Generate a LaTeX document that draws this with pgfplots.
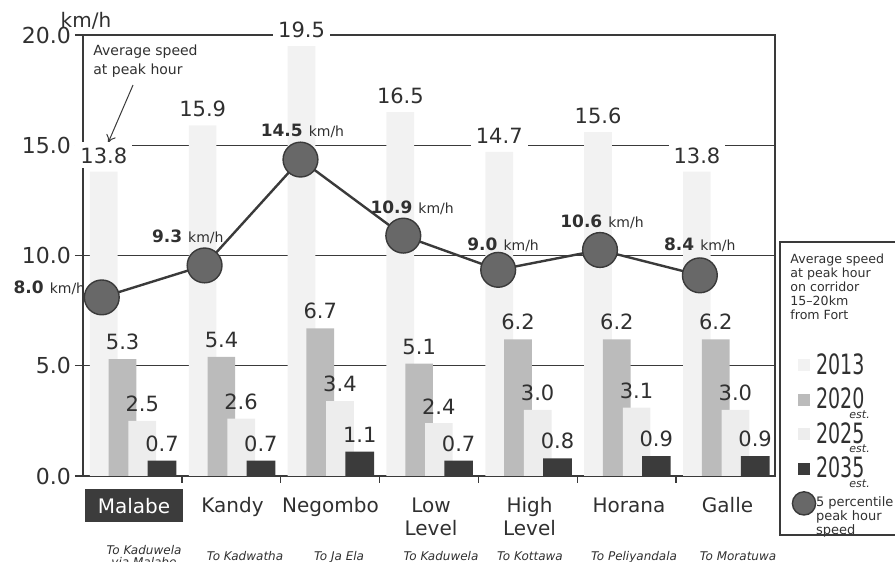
\documentclass[border=0pt]{standalone}
\usepackage{graphicx}
\usepackage{pgfplots}
\pgfplotsset{compat=1.18}
\usepackage{fontspec}
\setmainfont{DejaVu Sans}
\usetikzlibrary{arrows.meta}
\definecolor{axc}{HTML}{3A3A3A}
\definecolor{txt}{HTML}{303030}
\definecolor{cA}{HTML}{F2F2F2}
\definecolor{cB}{HTML}{BBBBBB}
\definecolor{cC}{HTML}{EDEDED}
\definecolor{cD}{HTML}{3B3B3B}
\definecolor{mk}{HTML}{686868}
\definecolor{boxc}{HTML}{3C3C3C}
\newcommand{\myfs}[1]{\fontsize{#1}{#1}\selectfont}
\newcommand{\myfsb}[2]{\fontsize{#1}{#2}\selectfont}
\newcommand{\legyr}[2]{\raisebox{0pt}[10.5pt][6.5pt]{\scalebox{0.68}[1]{\myfs{14}#1}\rlap{\hspace{-7.5pt}\raisebox{-4.8pt}{\myfs{5.5}\itshape #2}}}}
\newcommand{\lb}[1]{{\myfs{8.5}\bfseries #1}\hspace{3pt}{\myfs{7}km/h}}
\tikzset{numfmt/.style={/pgf/number format/fixed, /pgf/number format/fixed zerofill, /pgf/number format/precision=1, /pgf/number format/assume math mode=true}}
\pgfplotsset{
  sqleg/.style={legend image code/.code={\path[draw=none, fill=none] (0pt,-6pt) rectangle (12pt,6pt); \fill[##1] (3pt,-3pt) rectangle (9pt,3pt);}},
  circleg/.style={legend image code/.code={\path[draw=none, fill=none] (0pt,-6pt) rectangle (12pt,6pt); \draw[##1, mark size=5.8pt] plot[only marks] coordinates {(6pt,0pt)};}},
}
\begin{document}
\begin{tikzpicture}
\path[use as bounding box] (-41.5pt,-43pt) rectangle (406pt,238pt);
\begin{axis}[
  at={(0pt,0pt)}, anchor=south west,
  scale only axis, width=346pt, height=220.5pt,
  xmin=-0.5, xmax=6.5, ymin=0, ymax=20,
  clip=false,
  axis line style={draw=axc, line width=0.7pt},
  xtick=\empty,
  extra x ticks={0.5,1.5,2.5,3.5,4.5,5.5},
  extra x tick labels={},
  extra x tick style={tick align=outside, major tick length=3.5pt, grid=none},
  xtick pos=bottom,
  ytick={0,5,10,15,20},
  ytick pos=left,
  tick align=center, major tick length=8pt,
  tick style={draw=axc, line width=0.7pt},
  ymajorgrids, grid style={draw=axc, line width=0.7pt},
  yticklabel style={font=\myfs{11}, text=txt, numfmt, xshift=1.5pt},
  legend style={at={(1.0246,0.2789)}, anchor=north west, draw=none, fill=none, inner sep=0pt, outer sep=0pt, row sep=5.3pt, /tikz/every even column/.append style={column sep=0pt}, font=\myfs{10}, text=txt, nodes={inner sep=0pt}},
  legend cell align=left,
  nodes near coords style={font=\myfs{10.5}, text=txt, numfmt},
]
\addplot[ybar, bar width=0.28, bar shift=-0.29, fill=cA, draw=none, sqleg,
  nodes near coords, every node near coord/.append style={fill=white, inner sep=2.5pt, yshift=1.5pt, xshift=-14.3pt}]
  coordinates {(0,13.8)(1,15.9)(2,19.5)(3,16.5)(4,14.7)(5,15.6)(6,13.8)};
\addlegendentry{\legyr{2013}{}}
\addplot[ybar, bar width=0.28, bar shift=-0.10, fill=cB, draw=none, sqleg,
  nodes near coords, every node near coord/.append style={yshift=1pt, xshift=-4.9pt}]
  coordinates {(0,5.3)(1,5.4)(2,6.7)(3,5.1)(4,6.2)(5,6.2)(6,6.2)};
\addlegendentry{\legyr{2020}{est.}}
\addplot[ybar, bar width=0.28, bar shift=0.10, fill=cC, draw=none, sqleg,
  nodes near coords, every node near coord/.append style={yshift=1pt, xshift=4.9pt}]
  coordinates {(0,2.5)(1,2.6)(2,3.4)(3,2.4)(4,3.0)(5,3.1)(6,3.0)};
\addlegendentry{\legyr{2025}{est.}}
\addplot[ybar, bar width=0.29, bar shift=0.30, fill=cD, draw=none, sqleg,
  nodes near coords, every node near coord/.append style={yshift=1pt, xshift=14.8pt}]
  coordinates {(0,0.7)(1,0.7)(2,1.1)(3,0.7)(4,0.8)(5,0.9)(6,0.9)};
\addlegendentry{\legyr{2035}{est.}}
\addplot[draw=axc, line width=1.2pt, mark=*, mark size=8.7pt,
  mark options={fill=mk, draw=axc, line width=0.7pt}, circleg]
  coordinates {(-0.31,8.1)(0.73,9.55)(1.70,14.35)(2.74,10.9)(3.70,9.35)(4.73,10.25)(5.74,9.1)};
\addlegendentry{{\myfsb{6.5}{6.2}\begin{tabular}[t]{@{}l@{}}5 percentile\\peak hour\\speed\end{tabular}}}
% line labels
\node[text=txt, inner sep=0pt] at (axis cs:-0.84,8.53) {\lb{8.0}};
\node[text=txt, inner sep=0pt] at (axis cs:0.56,10.84) {\lb{9.3}};
\node[text=txt, inner sep=0pt] at (axis cs:1.72,15.65) {\lb{14.5}};
\node[text=txt, inner sep=0pt] at (axis cs:2.83,12.15) {\lb{10.9}};
\node[text=txt, inner sep=0pt] at (axis cs:3.75,10.48) {\lb{9.0}};
\node[text=txt, inner sep=0pt] at (axis cs:4.75,11.52) {\lb{10.6}};
\node[text=txt, inner sep=0pt] at (axis cs:5.74,10.48) {\lb{8.4}};
% annotation
\node[text=txt, inner sep=0pt, anchor=west, align=left, font=\myfsb{7}{9.5}] at (axis cs:-0.399,18.82) {Average speed\\at peak hour};
\draw[axc, line width=0.5pt, -{To[length=4pt,width=5pt]}] (axis cs:0.006,17.73) -- (axis cs:-0.247,15.1);
\node[text=txt, inner sep=0pt, font=\myfs{10}] at (axis cs:-0.47,20.63) {km/h};
% category labels
\node[fill=boxc, text=white, minimum width=49pt, minimum height=16.5pt, inner sep=0pt, font=\myfs{10}] at (axis cs:0.016,-1.34) {Malabe};
\node[text=txt, inner sep=0pt, anchor=base, font=\myfs{10}] at (axis cs:1.012,-1.633) {Kandy};
\node[text=txt, inner sep=0pt, anchor=base, font=\myfs{10}] at (axis cs:2.004,-1.633) {Negombo};
\node[text=txt, inner sep=0pt, anchor=base, font=\myfs{10}] at (axis cs:3.02,-1.633) {Low};
\node[text=txt, inner sep=0pt, anchor=base, font=\myfs{10}] at (axis cs:3.02,-2.676) {Level};
\node[text=txt, inner sep=0pt, anchor=base, font=\myfs{10}] at (axis cs:4.017,-1.633) {High};
\node[text=txt, inner sep=0pt, anchor=base, font=\myfs{10}] at (axis cs:4.017,-2.676) {Level};
\node[text=txt, inner sep=0pt, anchor=base, font=\myfs{10}] at (axis cs:5.023,-1.633) {Horana};
\node[text=txt, inner sep=0pt, anchor=base, font=\myfs{10}] at (axis cs:6.02,-1.633) {Galle};
% sub labels
\node[text=txt, inner sep=0pt, anchor=base, font=\myfs{6}\itshape] at (axis cs:0.117,-3.58) {To Kaduwela};
\node[text=txt, inner sep=0pt, anchor=base, font=\myfs{6}\itshape] at (axis cs:0.117,-4.12) {via Malabe};
\node[text=txt, inner sep=0pt, anchor=base, font=\myfs{6}\itshape] at (axis cs:1.139,-3.81) {To Kadwatha};
\node[text=txt, inner sep=0pt, anchor=base, font=\myfs{6}\itshape] at (axis cs:2.09,-3.81) {To Ja Ela};
\node[text=txt, inner sep=0pt, anchor=base, font=\myfs{6}\itshape] at (axis cs:3.121,-3.81) {To Kaduwela};
\node[text=txt, inner sep=0pt, anchor=base, font=\myfs{6}\itshape] at (axis cs:4.021,-3.81) {To Kottawa};
\node[text=txt, inner sep=0pt, anchor=base, font=\myfs{6}\itshape] at (axis cs:5.074,-3.81) {To Peliyandala};
\node[text=txt, inner sep=0pt, anchor=base, font=\myfs{6}\itshape] at (axis cs:6.126,-3.81) {To Moratuwa};
\end{axis}
% legend frame and heading
\draw[axc, line width=0.7pt] (348.5pt,-29.5pt) rectangle (460pt,117pt);
\node[text=txt, inner sep=0pt, anchor=north west, align=left, font=\myfsb{6.3}{7}] at (353.5pt,111pt) {Average speed\\at peak hour\\on corridor\\15–20km\\from Fort};
\end{tikzpicture}
\end{document}
